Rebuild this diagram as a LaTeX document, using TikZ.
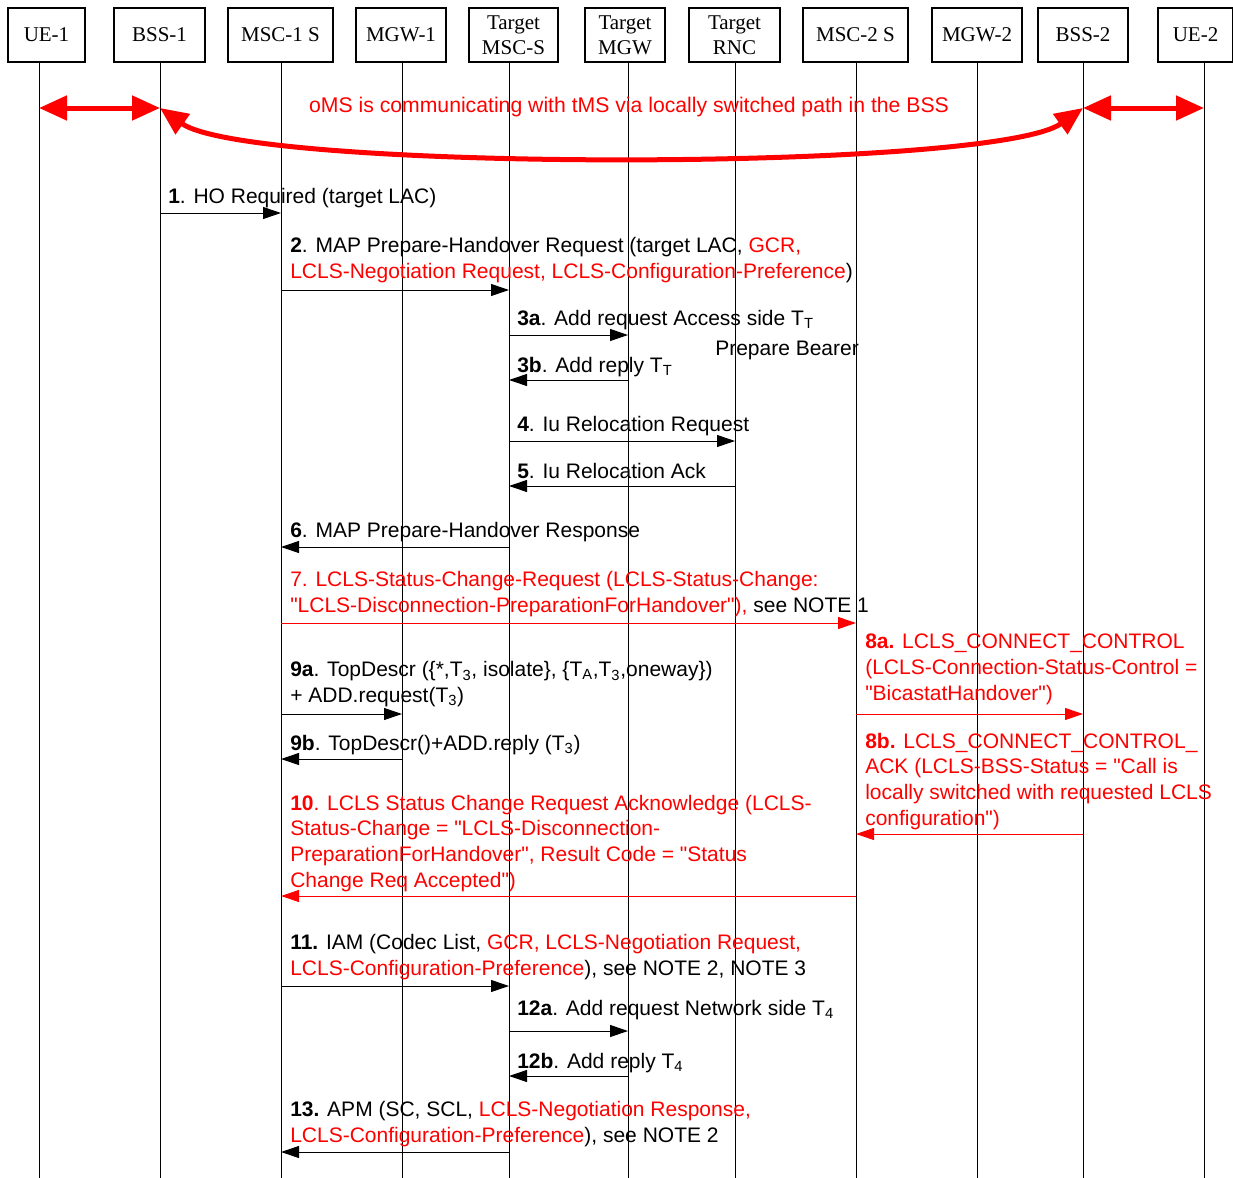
\documentclass[tikz,border=0pt]{standalone}
\usepackage{fontspec}
\setmainfont{Liberation Sans}[Ligatures=TeXOff]
\newfontfamily\headfont{Liberation Serif}
\usetikzlibrary{arrows.meta}
\newcommand\rtext[1]{\textcolor{red}{#1}}
\begin{document}
\begin{tikzpicture}[x=0.75pt,y=-0.75pt,
  ent/.style={draw,line width=0.9pt,minimum height=40.5pt,inner sep=0pt,align=center,
    font=\headfont\fontsize{15.75pt}{18.75pt}\selectfont},
  msg/.style={line width=0.75pt,-{Triangle[length=13.5pt,width=9pt]}},
  rmsg/.style={msg,red},
  lbl/.style={anchor=base west,inner sep=0pt,align=left,
    font=\fontsize{15.75pt}{19.2pt}\selectfont},
  link/.style={red,line width=3.75pt,
    {Triangle[length=21pt,width=18pt]}-{Triangle[length=21pt,width=18pt]}}]
 \useasboundingbox (0,0) rectangle (1233,1178);
 % entities and lifelines
 \foreach \n/\c/\w/\l/\t in {ue1/46.5/77/39/UE-1, bss1/159.5/91/160/BSS-1,
    msc1/280.5/105/281/MSC-1 S, mgw1/401/90/402/MGW-1,
    tmsc/513.5/89/509/{Target\\MSC-S}, tmgw/625/80/628/{Target\\MGW},
    trnc/734.5/91/735/{Target\\RNC}, msc2/855.5/105/856/MSC-2 S,
    mgw2/977/90/977/MGW-2, bss2/1083/90/1083/BSS-2, ue2/1195.5/75/1204/UE-2} {
   \node[ent,minimum width=\w*0.75pt] (\n) at (\c,35) {\t};
   \coordinate (\n-l) at (\l,62);
   \draw[line width=0.75pt] (\n-l) -- (\n-l |- 0,1178);
 }
 % locally switched path
 \draw[link] (ue1-l |- 0,108) -- (bss1-l |- 0,108);
 \draw[link] (bss2-l |- 0,108) -- (ue2-l |- 0,108);
 \draw[link] (bss1-l |- 0,108) .. controls (250,172) and (993,172) .. (bss2-l |- 0,108);
 \node[red,font=\fontsize{15.9pt}{19.2pt}\selectfont] (path) at (629,107)
    {oMS is communicating with tMS via locally switched path in the BSS};
 % messages
 \draw[msg] (bss1-l |- 0,213) -- (msc1-l |- 0,213);
 \node[lbl] (m1) at (168,203) {\textbf{1}. HO Required (target LAC)};
 \draw[msg] (msc1-l |- 0,290) -- (tmsc-l |- 0,290);
 \node[lbl] (m2) at (290,278) {\textbf{2}. MAP Prepare-Handover Request (target LAC, \rtext{GCR,}\\
    \rtext{LCLS-Negotiation Request, LCLS-Configuration-Preference})};
 \draw[msg] (tmsc-l |- 0,335) -- (tmgw-l |- 0,335);
 \node[lbl] (m3a) at (517,325) {\textbf{3a}. Add request Access side T\textsubscript{T}};
 \node[lbl] (bearer) at (715,355) {Prepare Bearer};
 \draw[msg] (tmgw-l |- 0,380) -- (tmsc-l |- 0,380);
 \node[lbl] (m3b) at (517,372) {\textbf{3b}. Add reply T\textsubscript{T}};
 \draw[msg] (tmsc-l |- 0,441) -- (trnc-l |- 0,441);
 \node[lbl] (m4) at (517,431) {\textbf{4}. Iu Relocation Request};
 \draw[msg] (trnc-l |- 0,486) -- (tmsc-l |- 0,486);
 \node[lbl] (m5) at (517,478) {\textbf{5}. Iu Relocation Ack};
 \draw[msg] (tmsc-l |- 0,547) -- (msc1-l |- 0,547);
 \node[lbl] (m6) at (290,537) {\textbf{6}. MAP Prepare-Handover Response};
 \draw[rmsg] (msc1-l |- 0,623) -- (msc2-l |- 0,623);
 \node[lbl] (m7) at (290,612) {\rtext{7. LCLS-Status-Change-Request (LCLS-Status-Change:}\\
    \rtext{"LCLS-Disconnection-PreparationForHandover"),} see NOTE 1};
 \draw[rmsg] (msc2-l |- 0,714) -- (bss2-l |- 0,714);
 \node[lbl,red] (m8a) at (865,700) {\textbf{8a.} LCLS\_CONNECT\_CONTROL\\
    (LCLS-Connection-Status-Control =\\"BicastatHandover")};
 \draw[msg] (msc1-l |- 0,714) -- (mgw1-l |- 0,714);
 \node[lbl] (m9a) at (290,702) {\textbf{9a}. TopDescr (\{*,T\textsubscript{3}, isolate\}, \{T\textsubscript{A},T\textsubscript{3},oneway\})\\
    + ADD.request(T\textsubscript{3})};
 \draw[msg] (mgw1-l |- 0,759) -- (msc1-l |- 0,759);
 \node[lbl] (m9b) at (290,750) {\textbf{9b}. TopDescr()+ADD.reply (T\textsubscript{3})};
 \draw[rmsg] (bss2-l |- 0,834) -- (msc2-l |- 0,834);
 \node[lbl,red] (m8b) at (865,825) {\textbf{8b.} LCLS\_CONNECT\_CONTROL\_\\
    ACK (LCLS-BSS-Status = "Call is\\locally switched with requested LCLS\\configuration")};
 \draw[rmsg] (msc2-l |- 0,896) -- (msc1-l |- 0,896);
 \node[lbl,red] (m10) at (290,887) {\textbf{10}. LCLS Status Change Request Acknowledge (LCLS-\\
    Status-Change = "LCLS-Disconnection-\\PreparationForHandover", Result Code = "Status\\
    Change Req Accepted")};
 \draw[msg] (msc1-l |- 0,986) -- (tmsc-l |- 0,986);
 \node[lbl] (m11) at (290,975) {\textbf{11.} IAM (Codec List, \rtext{GCR, LCLS-Negotiation Request,}\\
    \rtext{LCLS-Configuration-Preference}), see NOTE 2, NOTE 3};
 \draw[msg] (tmsc-l |- 0,1031) -- (tmgw-l |- 0,1031);
 \node[lbl] (m12a) at (517,1015) {\textbf{12a}. Add request Network side T\textsubscript{4}};
 \draw[msg] (tmgw-l |- 0,1076) -- (tmsc-l |- 0,1076);
 \node[lbl] (m12b) at (517,1068) {\textbf{12b}. Add reply T\textsubscript{4}};
 \draw[msg] (tmsc-l |- 0,1152) -- (msc1-l |- 0,1152);
 \node[lbl] (m13) at (290,1142) {\textbf{13.} APM (SC, SCL, \rtext{LCLS-Negotiation Response,}\\
    \rtext{LCLS-Configuration-Preference}), see NOTE 2};
\end{tikzpicture}
\end{document}
